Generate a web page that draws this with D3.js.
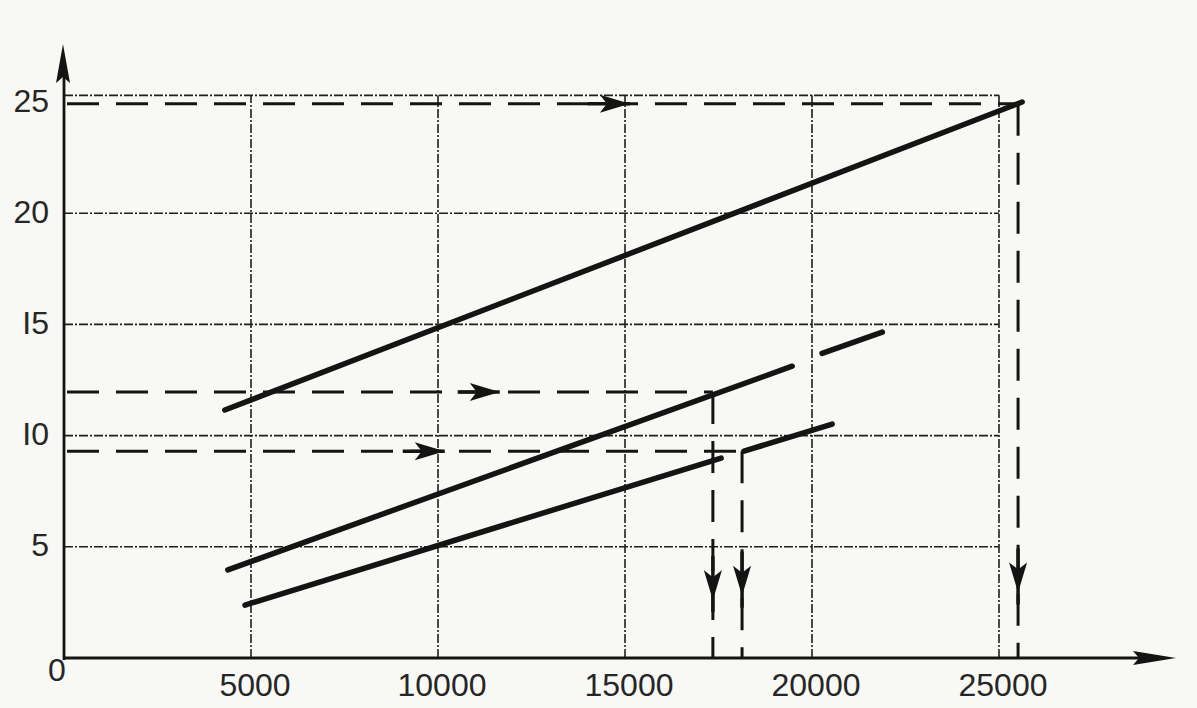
<!DOCTYPE html>
<html><head><meta charset="utf-8">
<script src="https://cdn.jsdelivr.net/npm/d3@7"></script>
<style>
html,body{margin:0;padding:0;background:#f8f8f5;}
svg{display:block;}
</style></head>
<body>
<svg id="chart" width="1197" height="708"></svg>
<script>
// ---- data ----
const xTicks = [5000, 10000, 15000, 20000, 25000];
const xTickLabels = ["5000", "10000", "15000", "20000", "25000"];
const yTicks = [5, 10, 15, 20, 25];
const yTickLabels = ["5", "I0", "I5", "20", "25"];
const gridX = [5000, 10000, 15000, 20000, 25000];
const gridY = [5, 10, 15, 20, 25.3];
// solid lines: each series is a list of segments [[x,y],[x,y]]
const lineTop = [[[4300, 11.15], [25620, 25.0]]];
const lineMid = [[[4380, 3.96], [19470, 13.12]], [[20270, 13.70], [21880, 14.65]]];
const lineBot = [[[4840, 2.38], [17570, 8.99]], [[18180, 9.30], [20540, 10.52]]];
// dashed read-off lines: value where reading meets the line
const readX = [25510, 17350, 18130];
const readY = [24.92, 11.96, 9.30];
const hArrowX = [15130, 11650, 10180];   // where the horizontal arrow tip sits
const vArrowY = [2.95, 2.6, 2.8];        // where the vertical arrow tip sits

// ---- scales ----
const x = d3.scaleLinear().domain([0, 25000]).range([64, 999]);
const y = d3.scaleLinear().domain([0, 25]).range([658, 102]);

const svg = d3.select("#chart");
const ink = "#141414";

// grid
const g = svg.append("g").attr("stroke", "#1e1e1e").attr("stroke-width", 1.6).attr("fill", "none");
g.selectAll("line.gx").data(gridX).join("line")
  .attr("x1", d => x(d)).attr("x2", d => x(d))
  .attr("y1", y(0)).attr("y2", y(25.3))
  .attr("stroke-dasharray", "9,2,2,2");
g.selectAll("line.gy").data(gridY).join("line")
  .attr("y1", d => y(d)).attr("y2", d => y(d))
  .attr("x1", x(0)).attr("x2", x(25000))
  .attr("stroke-dasharray", "9,2,2,2");

// axes
const ax = svg.append("g");
ax.append("line").attr("x1", x(0)).attr("x2", 1150).attr("y1", y(0)).attr("y2", y(0))
  .attr("stroke", ink).attr("stroke-width", 2.8);
ax.append("line").attr("x1", x(0)).attr("x2", x(0)).attr("y1", y(0) + 2).attr("y2", 70)
  .attr("stroke", ink).attr("stroke-width", 2.8);
// axis arrowheads
ax.append("path").attr("fill", ink)
  .attr("d", `M${1176},${y(0)} L${1133},${y(0) - 7} L${1139},${y(0)} L${1133},${y(0) + 7} Z`);
ax.append("path").attr("fill", ink)
  .attr("d", `M${x(0) - 1},${44} L${x(0) - 8},${83} L${x(0) - 1},${77} L${x(0) + 6},${83} Z`);

// tick labels
const font = "'Liberation Sans', 'DejaVu Sans', sans-serif";
svg.append("g").selectAll("text").data(xTicks).join("text")
  .attr("x", d => x(d) + 4).attr("y", 696)
  .attr("text-anchor", "middle")
  .attr("font-family", font).attr("font-size", 32).attr("fill", "#262626")
  .text((d, i) => xTickLabels[i]);
svg.append("g").selectAll("text").data(yTicks).join("text")
  .attr("x", 49).attr("y", d => y(d) - 2)
  .attr("dy", "0.36em")
  .attr("text-anchor", "end")
  .attr("font-family", font).attr("font-size", 32).attr("fill", "#262626")
  .text((d, i) => yTickLabels[i]);
svg.append("text").attr("x", 57).attr("y", 681).attr("text-anchor", "middle")
  .attr("font-family", font).attr("font-size", 32).attr("fill", "#262626").text("0");

// dashed read-off lines
const dg = svg.append("g").attr("stroke", ink).attr("stroke-width", 3).attr("fill", "none")
  .attr("stroke-dasharray", "32,17");
readX.forEach((rx, i) => {
  dg.append("line").attr("x1", x(0) + 3).attr("x2", x(rx)).attr("y1", y(readY[i])).attr("y2", y(readY[i]));
  dg.append("line").attr("x1", x(rx)).attr("x2", x(rx)).attr("y1", y(readY[i])).attr("y2", y(0));
});
// arrowheads on read-off lines
const ag = svg.append("g").attr("fill", ink);
hArrowX.forEach((hx, i) => {
  const tx = x(hx), ty = y(readY[i]);
  ag.append("path").attr("d", `M${tx},${ty} L${tx - 30},${ty - 9} L${tx - 23},${ty} L${tx - 30},${ty + 9} Z`);
  ag.append("line").attr("x1", tx - 42).attr("x2", tx).attr("y1", ty).attr("y2", ty)
    .attr("stroke", ink).attr("stroke-width", 3.5);
});
vArrowY.forEach((vy, i) => {
  const tx = x(readX[i]), ty = y(vy);
  ag.append("path").attr("d", `M${tx},${ty} L${tx - 9},${ty - 30} L${tx},${ty - 23} L${tx + 9},${ty - 30} Z`);
  ag.append("line").attr("x1", tx).attr("x2", tx).attr("y1", ty - 44).attr("y2", ty + 12)
    .attr("stroke", ink).attr("stroke-width", 3.5);
});

// solid lines
const lineGen = d3.line().x(d => x(d[0])).y(d => y(d[1]));
const lg = svg.append("g").attr("stroke", ink).attr("stroke-width", 5.5).attr("fill", "none")
  .attr("stroke-linecap", "round");
[lineTop, lineMid, lineBot].forEach(series => {
  series.forEach(seg => lg.append("path").attr("d", lineGen(seg)));
});
</script>
</body></html>
